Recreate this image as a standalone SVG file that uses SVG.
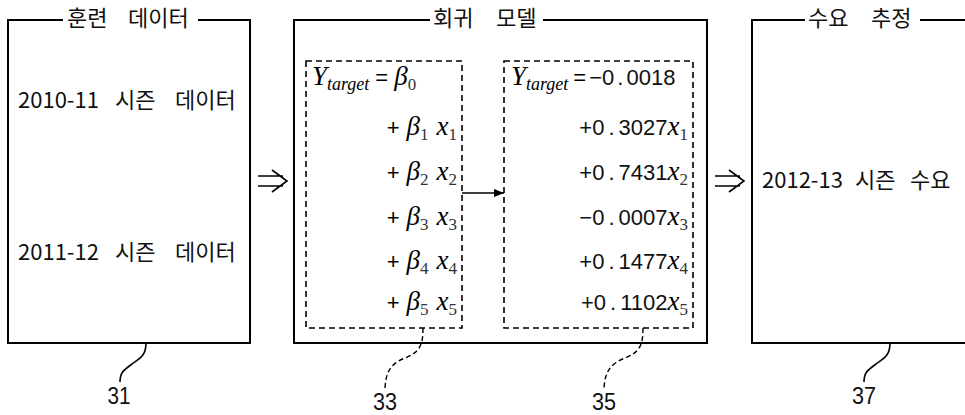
<svg xmlns="http://www.w3.org/2000/svg" width="965" height="415" viewBox="0 0 965 415">
<style>
.box{fill:none;stroke:#000;stroke-width:2}
.dbox{fill:none;stroke:#000;stroke-width:1.6;stroke-dasharray:6 4}
.ln{fill:none;stroke:#000;stroke-width:1.6}
.dl{fill:none;stroke:#000;stroke-width:1.4;stroke-dasharray:5 3}
.kr{font-family:"Noto Sans CJK KR","Noto Sans",sans-serif;font-size:22px;fill:#111}
.num{font-family:"Liberation Sans",sans-serif;font-size:22px;fill:#111}
.it{font-family:"Liberation Serif",serif;font-style:italic;font-size:27px}
.sub{font-family:"Liberation Serif",serif;font-size:17px;fill:#333}
.isub{font-family:"Liberation Serif",serif;font-style:italic;font-size:18px}
.op{font-family:"Liberation Sans",sans-serif;font-size:22px}
.lbl{font-family:"Liberation Sans",sans-serif;font-size:24px;fill:#111}
</style>
<defs>
<marker id="ah" markerWidth="10" markerHeight="8" refX="10" refY="4" orient="auto" markerUnits="userSpaceOnUse">
<path d="M0,0 L10,4 L0,8 Z" fill="#000"/>
</marker>
</defs>
<rect width="965" height="415" fill="#fff"/>

<g id="node-training">
<path class="box" d="M63,20 H8 V343 H250 V20 H198"/>
<text class="kr" y="26"><tspan x="67">훈련</tspan><tspan x="128">데이터</tspan></text>
<text class="kr" y="108"><tspan x="18">2010-11</tspan><tspan x="115">시즌</tspan><tspan x="175">데이터</tspan></text>
<text class="kr" y="260"><tspan x="18">2011-12</tspan><tspan x="115">시즌</tspan><tspan x="175">데이터</tspan></text>
</g>

<g id="node-model">
<path class="box" d="M430,20 H294 V343 H707 V20 H543"/>
<text class="kr" y="26"><tspan x="433">회귀</tspan><tspan x="496">모델</tspan></text>
</g>

<g id="node-formula">
<rect class="dbox" x="306" y="61" width="156" height="267"/>
<text y="85" x="312"><tspan class="it">Y</tspan><tspan class="isub" dy="5">target</tspan><tspan class="op" dy="-5" dx="6">=</tspan><tspan class="it" dx="6">β</tspan><tspan class="sub" dy="5">0</tspan></text>
<text y="135" x="457" text-anchor="end"><tspan class="op">+</tspan><tspan class="it" dx="7">β</tspan><tspan class="sub" dy="5">1</tspan><tspan class="it" dy="-5" dx="8">x</tspan><tspan class="sub" dy="5">1</tspan></text>
<text y="180" x="457" text-anchor="end"><tspan class="op">+</tspan><tspan class="it" dx="7">β</tspan><tspan class="sub" dy="5">2</tspan><tspan class="it" dy="-5" dx="8">x</tspan><tspan class="sub" dy="5">2</tspan></text>
<text y="225" x="457" text-anchor="end"><tspan class="op">+</tspan><tspan class="it" dx="7">β</tspan><tspan class="sub" dy="5">3</tspan><tspan class="it" dy="-5" dx="8">x</tspan><tspan class="sub" dy="5">3</tspan></text>
<text y="269" x="457" text-anchor="end"><tspan class="op">+</tspan><tspan class="it" dx="7">β</tspan><tspan class="sub" dy="5">4</tspan><tspan class="it" dy="-5" dx="8">x</tspan><tspan class="sub" dy="5">4</tspan></text>
<text y="310" x="457" text-anchor="end"><tspan class="op">+</tspan><tspan class="it" dx="7">β</tspan><tspan class="sub" dy="5">5</tspan><tspan class="it" dy="-5" dx="8">x</tspan><tspan class="sub" dy="5">5</tspan></text>
</g>

<g id="node-coeffs">
<rect class="dbox" x="504" y="61" width="189" height="267"/>
<text y="85" x="511"><tspan class="it">Y</tspan><tspan class="isub" dy="5">target</tspan><tspan class="op" dy="-5" dx="5">=</tspan><tspan class="num" dx="3">−0</tspan><tspan class="num" dx="3">.</tspan><tspan class="num" dx="3">0018</tspan></text>
<text y="135" x="688" text-anchor="end"><tspan class="num">+0</tspan><tspan class="num" dx="4">.</tspan><tspan class="num" dx="4">3027</tspan><tspan class="it">x</tspan><tspan class="sub" dy="5">1</tspan></text>
<text y="180" x="688" text-anchor="end"><tspan class="num">+0</tspan><tspan class="num" dx="4">.</tspan><tspan class="num" dx="4">7431</tspan><tspan class="it">x</tspan><tspan class="sub" dy="5">2</tspan></text>
<text y="225" x="688" text-anchor="end"><tspan class="num">−0</tspan><tspan class="num" dx="4">.</tspan><tspan class="num" dx="4">0007</tspan><tspan class="it">x</tspan><tspan class="sub" dy="5">3</tspan></text>
<text y="269" x="688" text-anchor="end"><tspan class="num">+0</tspan><tspan class="num" dx="4">.</tspan><tspan class="num" dx="4">1477</tspan><tspan class="it">x</tspan><tspan class="sub" dy="5">4</tspan></text>
<text y="310" x="688" text-anchor="end"><tspan class="num">+0</tspan><tspan class="num" dx="4">.</tspan><tspan class="num" dx="4">1102</tspan><tspan class="it">x</tspan><tspan class="sub" dy="5">5</tspan></text>
</g>

<g id="node-demand">
<path class="box" d="M805,20 H752 V343 H965 M920,20 H965"/>
<text class="kr" y="26"><tspan x="808">수요</tspan><tspan x="871">추정</tspan></text>
<text class="kr" y="188"><tspan x="762">2012-13</tspan><tspan x="855">시즌</tspan><tspan x="910">수요</tspan></text>
</g>

<g id="labels">
<text class="lbl" x="119" y="404" text-anchor="middle" textLength="23" lengthAdjust="spacingAndGlyphs">31</text>
<text class="lbl" x="385" y="410" text-anchor="middle" textLength="24" lengthAdjust="spacingAndGlyphs">33</text>
<text class="lbl" x="604" y="410" text-anchor="middle" textLength="24" lengthAdjust="spacingAndGlyphs">35</text>
<text class="lbl" x="864" y="404" text-anchor="middle" textLength="24" lengthAdjust="spacingAndGlyphs">37</text>
</g>

<g id="connectors">
<path class="ln" d="M258,176 H283 M258,186 H283 M272,170 L287,181 L272,192"/>
<path class="ln" d="M715,176 H740 M715,186 H740 M729,170 L744,181 L729,192"/>
<path class="ln" d="M462,193 H504" marker-end="url(#ah)"/>
<path class="ln" d="M146,343 C146,356 140,358 132,364 C124,370 120,372 120,382"/>
<path class="dl" d="M423,328 C423,345 420,352 405,358 C390,364 386,372 385,388"/>
<path class="dl" d="M643,328 C643,345 640,352 625,358 C610,364 605,372 604,388"/>
<path class="ln" d="M890,343 C890,356 884,358 876,364 C868,370 864,372 864,382"/>
</g>
</svg>
